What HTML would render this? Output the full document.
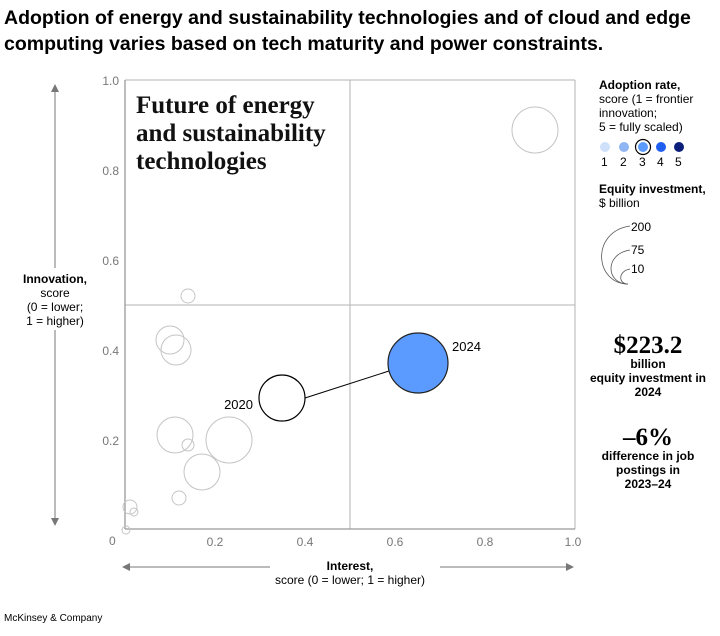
<!DOCTYPE html>
<html><head><meta charset="utf-8"><style>
body{margin:0;background:#fff;width:720px;height:631px;overflow:hidden;font-family:"Liberation Sans",sans-serif;}
svg text{font-family:"Liberation Sans",sans-serif;}
</style></head><body>
<svg width="720" height="631" viewBox="0 0 720 631">
<text x="4" y="24" font-size="19.5" font-weight="bold" fill="#000">Adoption of energy and sustainability technologies and of cloud and edge</text>
<text x="4" y="50" font-size="19.5" font-weight="bold" fill="#000">computing varies based on tech maturity and power constraints.</text>
<g stroke="#b3b3b3" fill="none" stroke-width="1">
<line x1="125" y1="80" x2="575" y2="80"/><line x1="575" y1="80" x2="575" y2="529"/>
<line x1="350" y1="80" x2="350" y2="529"/><line x1="125" y1="305" x2="575" y2="305"/>
</g>
<g stroke="#999" fill="none" stroke-width="1.3"><line x1="125" y1="80" x2="125" y2="529"/><line x1="125" y1="529" x2="575" y2="529"/></g>
<g font-size="12" fill="#777">
<text x="119" y="85" text-anchor="end">1.0</text><text x="119" y="175" text-anchor="end">0.8</text>
<text x="119" y="265" text-anchor="end">0.6</text><text x="119" y="355" text-anchor="end">0.4</text>
<text x="119" y="445" text-anchor="end">0.2</text><text x="109" y="545">0</text>
<text x="215" y="546" text-anchor="middle">0.2</text><text x="305" y="546" text-anchor="middle">0.4</text>
<text x="395" y="546" text-anchor="middle">0.6</text><text x="485" y="546" text-anchor="middle">0.8</text>
<text x="573" y="546" text-anchor="middle">1.0</text>
</g>
<g font-size="25" font-weight="bold" fill="#111">
<text x="136" y="113" style="font-family:'Liberation Serif',serif">Future of energy</text>
<text x="136" y="141" style="font-family:'Liberation Serif',serif">and sustainability</text>
<text x="136" y="169" style="font-family:'Liberation Serif',serif">technologies</text>
</g>
<g stroke="#c4c4c4" fill="none" stroke-width="1">
<circle cx="535" cy="130" r="23"/><circle cx="188" cy="296" r="7"/>
<circle cx="170" cy="340" r="14"/><circle cx="176" cy="350" r="15"/>
<circle cx="175" cy="435" r="18"/><circle cx="188" cy="445" r="6"/>
<circle cx="229" cy="440" r="23"/><circle cx="202" cy="472" r="18"/>
<circle cx="179" cy="498" r="7"/><circle cx="130" cy="507" r="7"/><circle cx="134" cy="512" r="4"/>
<circle cx="126" cy="530" r="4"/>
</g>
<line x1="305" y1="398" x2="389" y2="371" stroke="#000" stroke-width="1"/>
<circle cx="282" cy="398" r="23" fill="#fff" stroke="#000" stroke-width="1.2"/>
<circle cx="418" cy="363" r="30" fill="#5b9bff" stroke="#222" stroke-width="1.2"/>
<text x="253" y="409" font-size="13" text-anchor="end" fill="#000">2020</text>
<text x="452" y="351" font-size="13" fill="#000">2024</text>
<g stroke="#777" fill="#777">
<line x1="55" y1="88" x2="55" y2="522"/><polygon points="51,92 59,92 55,84" stroke="none"/><polygon points="51,518 59,518 55,526" stroke="none"/>
<line x1="128" y1="567" x2="568" y2="567"/><polygon points="130,563 130,571 122,567" stroke="none"/><polygon points="566,563 566,571 574,567" stroke="none"/>
</g>
<rect x="20" y="268" width="70" height="62" fill="#fff"/>
<g font-size="12" fill="#000" text-anchor="middle">
<text x="55" y="283" font-weight="bold">Innovation,</text><text x="55" y="297">score</text>
<text x="55" y="311">(0 = lower;</text><text x="55" y="325">1 = higher)</text>
</g>
<rect x="270" y="558" width="170" height="30" fill="#fff"/>
<text x="350" y="570" font-size="12" font-weight="bold" text-anchor="middle">Interest,</text>
<text x="350" y="584" font-size="12" text-anchor="middle">score (0 = lower; 1 = higher)</text>
<g font-size="12" fill="#000">
<text x="599" y="89" font-weight="bold">Adoption rate,</text>
<text x="599" y="103">score (1 = frontier</text><text x="599" y="117">innovation;</text><text x="599" y="131">5 = fully scaled)</text>
<circle cx="605" cy="147" r="5" fill="#cfe0fb"/><circle cx="624" cy="147" r="5" fill="#8fb5f5"/>
<circle cx="643" cy="147" r="5" fill="#5b9bff"/><circle cx="643" cy="147" r="7.5" fill="none" stroke="#000" stroke-width="1.2"/>
<circle cx="661" cy="147" r="5" fill="#1f5ff0"/><circle cx="679" cy="147" r="5" fill="#0b1f7a"/>
<text x="601" y="166">1</text><text x="620" y="166">2</text><text x="639" y="166">3</text><text x="657" y="166">4</text><text x="675" y="166">5</text>
<text x="599" y="193" font-weight="bold">Equity investment,</text><text x="599" y="207">$ billion</text>
<text x="631" y="231">200</text><text x="631" y="254">75</text><text x="631" y="273">10</text>
</g>
<g fill="none" stroke="#555" stroke-width="0.8">
<path d="M630,226 C590,232 595,284 628,284"/>
<path d="M630,250 C604,254 606,284 628,284"/>
<path d="M630,269 C618,271 618,284 628,284"/>
</g>
<g text-anchor="middle" fill="#000">
<text x="648" y="353" font-size="25" font-weight="bold" style="font-family:'Liberation Serif',serif">$223.2</text>
<text x="648" y="368" font-size="12" font-weight="bold">billion</text>
<text x="648" y="382" font-size="12" font-weight="bold">equity investment in</text>
<text x="648" y="396" font-size="12" font-weight="bold">2024</text>
<text x="648" y="445" font-size="25" font-weight="bold" style="font-family:'Liberation Serif',serif">–6%</text>
<text x="648" y="460" font-size="12" font-weight="bold">difference in job</text>
<text x="648" y="474" font-size="12" font-weight="bold">postings in</text>
<text x="648" y="488" font-size="12" font-weight="bold">2023–24</text>
</g>
<text x="4" y="621" font-size="10" fill="#000">McKinsey &amp; Company</text>
</svg>
</body></html>
